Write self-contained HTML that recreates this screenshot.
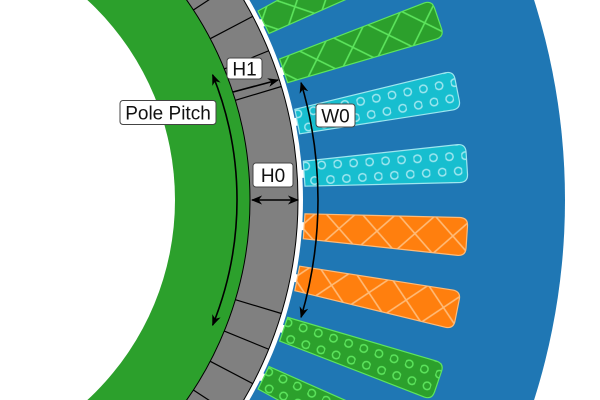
<!DOCTYPE html>
<html><head><meta charset="utf-8"><style>
html,body{margin:0;padding:0;background:#fff;width:600px;height:400px;overflow:hidden;}
svg{display:block;}
text{font-family:"Liberation Sans",sans-serif;font-size:19px;fill:#111;}
</style></head><body>
<svg width="600" height="400" viewBox="0 0 600 400" xmlns="http://www.w3.org/2000/svg">
<defs>
<pattern id="xg" patternUnits="userSpaceOnUse" width="38" height="38" x="0" y="-19">
<path d="M0,0 L38,38 M38,0 L0,38" stroke="#5de55d" stroke-width="1.6" fill="none"/></pattern>
<pattern id="xo" patternUnits="userSpaceOnUse" width="38" height="38" x="0" y="-19">
<path d="M0,0 L38,38 M38,0 L0,38" stroke="#ffbb78" stroke-width="1.6" fill="none"/></pattern>
<pattern id="dc" patternUnits="userSpaceOnUse" width="16" height="30" x="0" y="-7.5">
<circle cx="4" cy="0" r="3.8" fill="none" stroke="#9ee6ef" stroke-width="1.5"/>
<circle cx="4" cy="30" r="3.8" fill="none" stroke="#9ee6ef" stroke-width="1.5"/>
<circle cx="12" cy="15" r="3.8" fill="none" stroke="#9ee6ef" stroke-width="1.5"/></pattern>
<pattern id="dg" patternUnits="userSpaceOnUse" width="16" height="30" x="0" y="-7.5">
<circle cx="4" cy="0" r="3.8" fill="none" stroke="#5de55d" stroke-width="1.5"/>
<circle cx="4" cy="30" r="3.8" fill="none" stroke="#5de55d" stroke-width="1.5"/>
<circle cx="12" cy="15" r="3.8" fill="none" stroke="#5de55d" stroke-width="1.5"/></pattern>
<marker id="ah" viewBox="0 0 10 10" refX="9" refY="5" markerWidth="7" markerHeight="7" orient="auto-start-reverse">
<path d="M0,1 L10,5 L0,9 L3,5 Z" fill="#000"/></marker>
<path id="slot" d="M402,-12.5 L557,-19 Q565,-19 565,-11 L565,11 Q565,19 557,19 L402,12.5 Z"/>
</defs>
<g transform="translate(-97,200)">
<circle r="662" fill="#1f77b4"/>
<circle r="400" fill="#fff"/>
<circle r="395" fill="#808080" stroke="#000" stroke-width="1"/>
<circle r="347" fill="#2ca02c" stroke="#000" stroke-width="1"/>
<circle r="272" fill="#fff"/>
<g stroke="#000" stroke-width="1.2">
<g transform="rotate(-16.7)"><line x1="347" x2="395"/></g>
<g transform="rotate(16.7)"><line x1="347" x2="395"/></g>
<g transform="rotate(-22.2)"><line x1="347" x2="395"/></g>
<g transform="rotate(22.2)"><line x1="347" x2="395"/></g>
<g transform="rotate(-27.7)"><line x1="347" x2="395"/></g>
<g transform="rotate(27.7)"><line x1="347" x2="395"/></g>
<g transform="rotate(-33.2)"><line x1="347" x2="395"/></g>
<g transform="rotate(33.2)"><line x1="347" x2="395"/></g>
</g>
<g transform="rotate(-26.25)"><rect x="396" y="-4" width="8" height="8" fill="#fff"/><use href="#slot" fill="#2ca02c"/><use href="#slot" fill="url(#xg)" stroke="#5de55d" stroke-width="1.2"/></g>
<g transform="rotate(-18.75)"><rect x="396" y="-4" width="8" height="8" fill="#fff"/><use href="#slot" fill="#2ca02c"/><use href="#slot" fill="url(#xg)" stroke="#5de55d" stroke-width="1.2"/></g>
<g transform="rotate(-11.25)"><rect x="396" y="-4" width="8" height="8" fill="#fff"/><use href="#slot" fill="#17becf"/><use href="#slot" fill="url(#dc)" stroke="#9ee6ef" stroke-width="1.2"/></g>
<g transform="rotate(-3.75)"><rect x="396" y="-4" width="8" height="8" fill="#fff"/><use href="#slot" fill="#17becf"/><use href="#slot" fill="url(#dc)" stroke="#9ee6ef" stroke-width="1.2"/></g>
<g transform="rotate(3.75)"><rect x="396" y="-4" width="8" height="8" fill="#fff"/><use href="#slot" fill="#ff7f0e"/><use href="#slot" fill="url(#xo)" stroke="#ffbb78" stroke-width="1.2"/></g>
<g transform="rotate(11.25)"><rect x="396" y="-4" width="8" height="8" fill="#fff"/><use href="#slot" fill="#ff7f0e"/><use href="#slot" fill="url(#xo)" stroke="#ffbb78" stroke-width="1.2"/></g>
<g transform="rotate(18.75)"><rect x="396" y="-4" width="8" height="8" fill="#fff"/><use href="#slot" fill="#2ca02c"/><use href="#slot" fill="url(#dg)" stroke="#5de55d" stroke-width="1.2"/></g>
<g transform="rotate(26.25)"><rect x="396" y="-4" width="8" height="8" fill="#fff"/><use href="#slot" fill="#2ca02c"/><use href="#slot" fill="url(#dg)" stroke="#5de55d" stroke-width="1.2"/></g>
<circle r="398" fill="none" stroke="#fff" stroke-width="2.5"/>
<path d="M309.7,-125.1 A334,334 0 0 1 309.7,125.1" fill="none" stroke="#000" stroke-width="1.6" marker-start="url(#ah)" marker-end="url(#ah)"/>
<path d="M398.1,-117.2 A415,415 0 0 1 398.1,117.2" fill="none" stroke="#000" stroke-width="1.6" marker-start="url(#ah)" marker-end="url(#ah)"/>
</g>
<line x1="233" y1="92" x2="278" y2="80" stroke="#000" stroke-width="1.6" marker-end="url(#ah)"/>
<line x1="252" y1="200" x2="298" y2="200" stroke="#000" stroke-width="1.6" marker-start="url(#ah)" marker-end="url(#ah)"/>
<rect x="120" y="100.5" width="96" height="24" rx="3" fill="#fff" stroke="#444"/>
<text x="168" y="119.5" text-anchor="middle">Pole Pitch</text>
<rect x="227" y="58" width="35" height="21" rx="3" fill="#fff" stroke="#444"/>
<text x="244.5" y="75.5" text-anchor="middle">H1</text>
<rect x="316" y="104" width="39" height="23" rx="3" fill="#fff" stroke="#444"/>
<text x="335.5" y="122.5" text-anchor="middle">W0</text>
<rect x="253" y="163" width="40" height="24" rx="3" fill="#fff" stroke="#444"/>
<text x="273" y="182" text-anchor="middle">H0</text>
</svg>
</body></html>
